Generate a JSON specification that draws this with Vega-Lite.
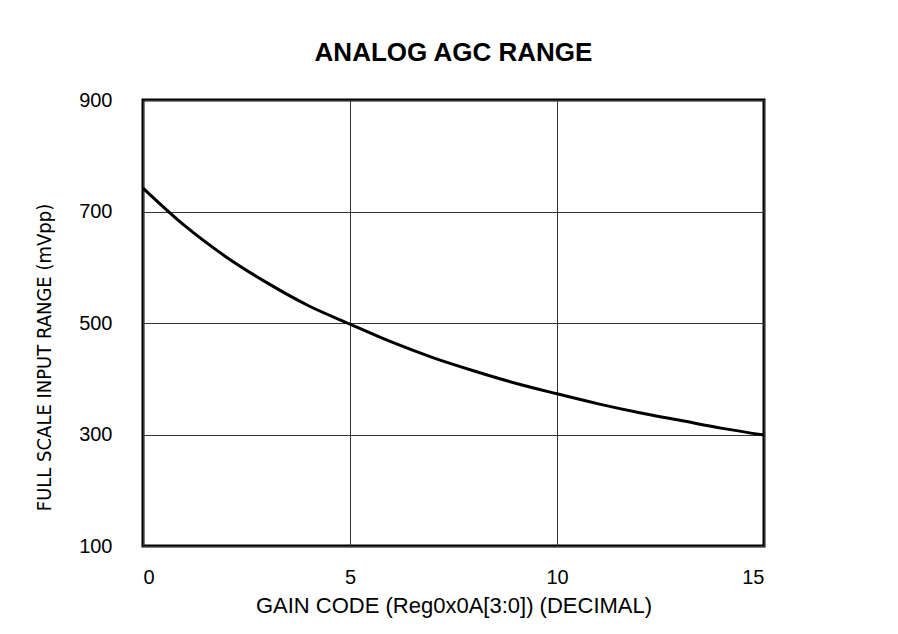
{
  "$schema": "https://vega.github.io/schema/vega-lite/v6.json",
  "autosize": {"type": "none"},
  "padding": {"left": 143, "top": 100, "right": 134, "bottom": 88},
  "width": 621,
  "height": 446,
  "background": "white",
  "title": {
    "text": "ANALOG AGC RANGE",
    "font": "Liberation Sans",
    "fontSize": 26,
    "fontWeight": "bold",
    "color": "black",
    "anchor": "middle",
    "offset": 24
  },
  "config": {
    "view": {"stroke": "black", "strokeWidth": 3},
    "axis": {
      "labelFont": "Liberation Sans",
      "labelFontSize": 20,
      "labelColor": "black",
      "titleColor": "black",
      "titleFontWeight": "normal",
      "domain": false,
      "ticks": false,
      "gridColor": "#333333",
      "gridWidth": 1,
      "gridOpacity": 1
    }
  },
  "data": {
    "values": [
      {"code": 0, "range": 742},
      {"code": 1, "range": 675},
      {"code": 2, "range": 619},
      {"code": 3, "range": 572},
      {"code": 4, "range": 531},
      {"code": 5, "range": 498},
      {"code": 6, "range": 466},
      {"code": 7, "range": 438},
      {"code": 8, "range": 414},
      {"code": 9, "range": 392},
      {"code": 10, "range": 373},
      {"code": 11, "range": 355},
      {"code": 12, "range": 339},
      {"code": 13, "range": 325},
      {"code": 14, "range": 311},
      {"code": 15, "range": 299}
    ]
  },
  "mark": {"type": "line", "color": "black", "strokeWidth": 3, "interpolate": "monotone"},
  "encoding": {
    "x": {
      "field": "code",
      "type": "quantitative",
      "scale": {"domain": [0, 15], "nice": false, "zero": false},
      "axis": {
        "values": [0, 5, 10, 15],
        "labelPadding": 21,
        "title": "GAIN CODE (Reg0x0A[3:0]) (DECIMAL)",
        "titleFont": "Liberation Sans",
        "titleFontSize": 22,
        "titlePadding": 8
      }
    },
    "y": {
      "field": "range",
      "type": "quantitative",
      "scale": {"domain": [100, 900], "nice": false, "zero": false},
      "axis": {
        "values": [100, 300, 500, 700, 900],
        "labelPadding": 31,
        "title": "FULL SCALE INPUT RANGE (mVpp)",
        "titleFont": "DejaVu Sans Condensed, Roboto Condensed, Liberation Sans Narrow, sans-serif",
        "titleFontSize": 20,
        "titleX": -99,
        "titleY": 257,
        "titleAngle": -90,
        "titleBaseline": "middle",
        "titleAlign": "center"
      }
    }
  }
}
